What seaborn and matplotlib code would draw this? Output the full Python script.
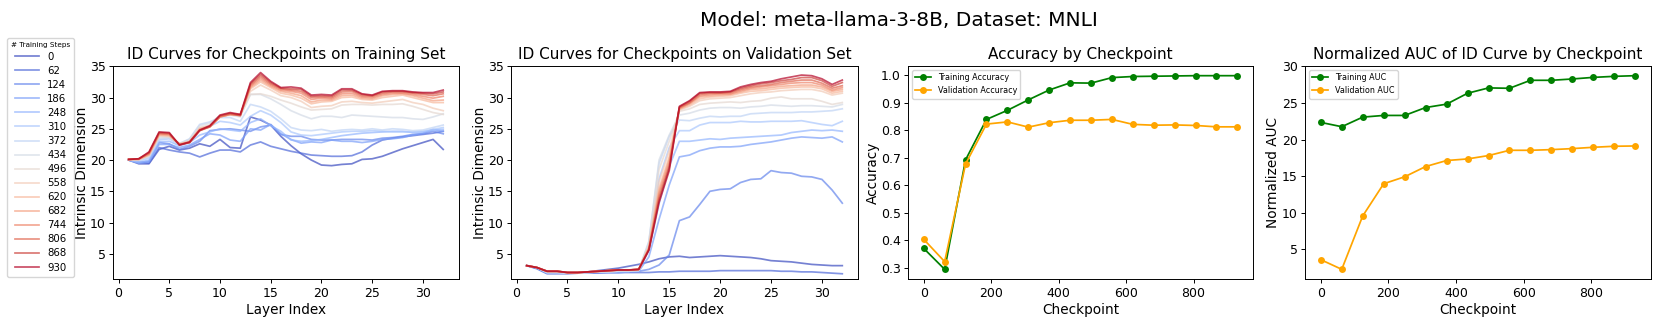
import numpy as np
import pandas as pd
import matplotlib
matplotlib.use("Agg")
import matplotlib.pyplot as plt
from matplotlib.ticker import MultipleLocator
import seaborn as sns

steps = [0, 62, 124, 186, 248, 310, 372, 434, 496, 558, 620, 682, 744, 806, 868, 930]
layers = list(range(1, 33))

# ---- ID curves on training set (one list per checkpoint) ----
train_000 = [20.0, 19.4, 19.4, 21.7, 22.2, 21.6, 21.9, 22.6, 22.2, 23.3, 22.0, 21.9, 26.9, 26.4, 25.6, 23.8,
             22.3, 21.0, 20.0, 19.2, 19.1, 19.3, 19.4, 20.1, 20.2, 20.6, 21.2, 21.8, 22.3, 22.8, 23.3, 21.7]
train_062 = [20.1, 19.7, 19.5, 22.0, 21.6, 21.3, 21.1, 20.5, 21.1, 21.6, 21.6, 21.3, 22.4, 22.9, 22.2, 21.8,
             21.4, 21.1, 20.8, 20.7, 20.6, 20.6, 20.7, 21.3, 22.4, 23.2, 23.5, 23.7, 23.9, 24.1, 24.3, 24.6]
train_124 = [20.0, 19.6, 19.8, 22.8, 22.6, 21.7, 22.2, 23.0, 24.7, 24.9, 25.0, 24.8, 24.6, 25.3, 25.6, 24.1,
             23.8, 23.8, 23.3, 23.2, 23.2, 23.3, 23.3, 23.3, 23.2, 23.5, 23.6, 23.8, 24.1, 24.2, 24.6, 24.2]
train_186 = [20.0, 19.5, 19.7, 22.5, 22.5, 22.0, 22.4, 23.3, 24.2, 24.0, 23.2, 23.0, 25.0, 24.8, 25.7, 24.2,
             23.3, 22.7, 22.9, 22.8, 23.2, 23.0, 23.0, 22.8, 23.0, 23.3, 23.4, 23.6, 24.0, 24.3, 24.9, 24.6]
train_248 = [20.0, 19.6, 20.0, 22.9, 23.0, 22.3, 22.8, 24.0, 24.5, 25.0, 24.8, 24.6, 26.0, 26.6, 25.5, 24.6,
             23.2, 23.0, 23.1, 23.3, 23.6, 23.9, 24.1, 24.3, 24.4, 24.5, 24.6, 24.6, 24.4, 24.5, 24.8, 24.9]
train_310 = [20.0, 19.8, 20.3, 23.2, 23.4, 22.5, 23.2, 24.9, 25.4, 26.2, 26.0, 25.6, 27.0, 27.9, 27.2, 26.0,
             24.5, 24.0, 23.9, 24.1, 24.3, 24.5, 24.6, 24.6, 24.7, 24.6, 24.5, 24.5, 24.5, 24.6, 24.9, 25.2]
train_372 = [20.0, 20.0, 20.5, 23.4, 23.6, 22.6, 23.4, 25.7, 26.1, 26.8, 26.8, 26.2, 28.9, 28.5, 27.8, 26.6,
             25.2, 24.8, 24.7, 24.9, 24.6, 24.8, 24.9, 24.8, 25.0, 24.8, 25.0, 24.9, 24.7, 24.8, 25.2, 25.6]
train_434 = [20.0, 20.0, 20.6, 23.6, 23.6, 22.7, 23.3, 25.5, 25.9, 27.1, 27.2, 26.9, 30.5, 30.5, 29.8, 28.9,
             27.9, 27.2, 26.6, 27.0, 27.0, 26.8, 27.2, 27.1, 27.0, 26.9, 26.8, 26.8, 26.6, 26.5, 26.9, 27.4]
train_496 = [20.1, 20.1, 20.7, 23.8, 23.7, 22.6, 23.1, 25.2, 25.6, 27.0, 27.2, 27.3, 30.5, 30.6, 30.2, 29.6,
             29.1, 28.5, 28.0, 28.1, 28.2, 28.8, 28.9, 28.9, 28.8, 28.9, 28.9, 29.0, 28.6, 28.1, 27.6, 27.3]
train_558 = [20.1, 20.1, 20.8, 23.9, 23.8, 22.6, 23.0, 25.1, 25.5, 27.0, 27.3, 27.4, 31.0, 32.0, 31.2, 30.3,
             30.0, 29.4, 28.4, 28.6, 28.7, 29.3, 29.4, 29.2, 29.1, 29.3, 29.5, 29.7, 29.2, 28.9, 28.3, 27.9]
train_620 = [20.1, 20.1, 20.8, 24.0, 23.9, 22.6, 22.9, 25.0, 25.4, 26.9, 27.3, 27.3, 31.4, 32.5, 31.6, 30.7,
             30.4, 29.9, 29.0, 29.3, 29.4, 30.0, 30.1, 29.7, 29.6, 30.0, 30.2, 30.4, 30.0, 29.6, 29.2, 29.2]
train_682 = [20.1, 20.1, 20.9, 24.1, 24.0, 22.5, 22.9, 24.9, 25.4, 26.9, 27.3, 27.2, 31.6, 32.8, 31.8, 31.0,
             30.7, 30.3, 29.3, 29.6, 29.6, 30.3, 30.4, 29.9, 29.8, 30.3, 30.5, 30.6, 30.3, 29.9, 29.5, 29.6]
train_744 = [20.1, 20.2, 21.0, 24.2, 24.1, 22.5, 22.8, 24.8, 25.3, 26.9, 27.3, 27.1, 31.8, 33.1, 32.0, 31.2,
             31.0, 30.7, 29.7, 29.9, 29.8, 30.6, 30.7, 30.1, 30.0, 30.5, 30.7, 30.7, 30.5, 30.2, 29.9, 30.2]
train_806 = [20.1, 20.2, 21.1, 24.3, 24.2, 22.5, 22.8, 24.7, 25.3, 27.0, 27.4, 27.1, 32.0, 33.4, 32.2, 31.4,
             31.2, 31.0, 30.0, 30.1, 30.0, 30.9, 31.0, 30.3, 30.2, 30.7, 30.9, 30.9, 30.7, 30.5, 30.3, 30.6]
train_868 = [20.1, 20.2, 21.2, 24.4, 24.3, 22.4, 22.8, 24.7, 25.4, 27.1, 27.5, 27.2, 32.2, 33.7, 32.4, 31.5,
             31.4, 31.3, 30.2, 30.3, 30.2, 31.2, 31.2, 30.5, 30.3, 30.9, 31.0, 31.0, 30.8, 30.7, 30.6, 30.9]
train_930 = [20.1, 20.2, 21.3, 24.5, 24.4, 22.4, 22.9, 24.8, 25.5, 27.2, 27.6, 27.3, 32.4, 34.0, 32.6, 31.6,
             31.7, 31.5, 30.4, 30.5, 30.4, 31.4, 31.4, 30.6, 30.4, 31.0, 31.1, 31.1, 30.9, 30.8, 30.8, 31.2]

# ---- ID curves on validation set ----
val_000 = [3.1, 2.7, 2.0, 2.0, 2.0, 2.0, 2.1, 2.3, 2.5, 2.7, 3.0, 3.3, 3.7, 4.2, 4.5, 4.6,
           4.4, 4.5, 4.6, 4.7, 4.6, 4.5, 4.4, 4.2, 3.9, 3.8, 3.7, 3.5, 3.3, 3.2, 3.1, 3.1]
val_062 = [3.1, 2.6, 1.8, 1.8, 1.8, 1.9, 1.9, 1.9, 2.0, 2.0, 2.0, 2.0, 2.0, 2.1, 2.1, 2.2,
           2.2, 2.2, 2.2, 2.3, 2.3, 2.3, 2.3, 2.3, 2.3, 2.2, 2.2, 2.1, 2.1, 2.0, 1.9, 1.8]
val_124 = [3.1, 2.7, 1.9, 1.9, 1.9, 1.9, 2.0, 2.0, 2.0, 2.0, 2.1, 2.2, 2.5, 3.2, 4.8, 10.3,
           10.9, 12.9, 15.0, 15.3, 15.4, 16.4, 16.9, 17.0, 18.3, 18.0, 17.9, 17.4, 17.3, 16.9, 15.2, 13.1]
val_186 = [3.1, 2.7, 1.9, 1.9, 1.9, 1.9, 2.0, 2.0, 2.0, 2.0, 2.1, 2.2, 4.5, 10.5, 16.0, 20.5,
           20.8, 21.5, 21.9, 22.1, 22.1, 22.2, 22.5, 22.7, 22.9, 23.2, 23.5, 23.7, 23.6, 23.5, 23.7, 22.9]
val_248 = [3.1, 2.8, 2.0, 2.0, 1.9, 1.9, 2.0, 2.1, 2.1, 2.2, 2.2, 2.3, 5.5, 13.0, 19.0, 23.0,
           23.0, 23.2, 23.4, 23.3, 23.5, 23.6, 23.7, 23.8, 23.9, 24.0, 24.4, 24.6, 24.8, 24.7, 24.8, 24.6]
val_310 = [3.1, 2.8, 2.0, 2.0, 1.9, 1.9, 2.0, 2.1, 2.1, 2.2, 2.2, 2.3, 6.5, 17.0, 22.0, 24.7,
           24.7, 25.6, 26.0, 26.0, 26.0, 26.2, 26.1, 26.1, 26.2, 26.2, 26.2, 26.3, 26.0, 25.7, 25.5, 26.2]
val_372 = [3.1, 2.8, 2.0, 2.0, 1.9, 1.9, 2.0, 2.1, 2.1, 2.2, 2.2, 2.3, 7.0, 19.5, 23.8, 26.4,
           26.3, 26.7, 27.0, 26.9, 27.0, 27.0, 27.4, 27.5, 27.6, 27.6, 27.6, 27.7, 27.7, 27.8, 27.9, 28.2]
val_434 = [3.1, 2.8, 2.0, 2.0, 1.9, 1.9, 2.0, 2.1, 2.1, 2.2, 2.2, 2.3, 6.8, 20.0, 24.0, 27.2,
           27.5, 28.0, 28.3, 28.4, 28.4, 28.3, 28.5, 28.6, 28.8, 28.7, 28.6, 28.7, 28.7, 28.6, 28.5, 28.9]
val_496 = [3.1, 2.8, 2.1, 2.1, 2.0, 2.0, 2.0, 2.1, 2.2, 2.3, 2.3, 2.4, 6.5, 18.5, 23.0, 27.8,
           28.2, 28.9, 29.1, 29.2, 29.3, 29.2, 29.4, 29.5, 29.9, 30.1, 29.8, 29.8, 29.8, 29.4, 28.9, 29.2]
val_558 = [3.1, 2.8, 2.2, 2.2, 2.0, 2.0, 2.1, 2.2, 2.3, 2.4, 2.4, 2.5, 6.2, 16.5, 21.5, 28.0,
           28.6, 29.5, 29.8, 29.9, 30.0, 30.3, 30.6, 30.8, 30.9, 31.1, 31.2, 31.3, 31.3, 31.0, 30.4, 30.7]
val_620 = [3.1, 2.8, 2.2, 2.2, 2.0, 2.0, 2.1, 2.2, 2.3, 2.4, 2.4, 2.5, 6.0, 15.5, 20.5, 28.1,
           28.8, 29.8, 30.1, 30.2, 30.3, 30.7, 31.0, 31.1, 31.3, 31.5, 31.6, 31.7, 31.7, 31.4, 30.7, 31.0]
val_682 = [3.1, 2.8, 2.2, 2.2, 2.0, 2.0, 2.1, 2.2, 2.3, 2.4, 2.4, 2.5, 5.9, 15.0, 20.0, 28.2,
           29.0, 30.1, 30.3, 30.4, 30.5, 30.9, 31.3, 31.4, 31.6, 31.8, 31.9, 32.0, 32.0, 31.7, 31.0, 31.3]
val_744 = [3.1, 2.8, 2.2, 2.2, 2.0, 2.0, 2.1, 2.2, 2.3, 2.4, 2.4, 2.5, 5.8, 14.5, 19.5, 28.3,
           29.1, 30.3, 30.5, 30.6, 30.6, 31.1, 31.5, 31.7, 31.9, 32.1, 32.3, 32.4, 32.4, 32.0, 31.2, 31.6]
val_806 = [3.1, 2.8, 2.2, 2.2, 2.0, 2.0, 2.1, 2.2, 2.3, 2.4, 2.4, 2.5, 5.7, 14.0, 19.0, 28.4,
           29.2, 30.5, 30.7, 30.7, 30.8, 31.3, 31.7, 31.9, 32.1, 32.4, 32.6, 32.8, 32.8, 32.3, 31.5, 31.9]
val_868 = [3.1, 2.8, 2.2, 2.2, 2.0, 2.0, 2.1, 2.2, 2.3, 2.4, 2.4, 2.5, 5.6, 13.6, 18.7, 28.5,
           29.4, 30.7, 30.8, 30.8, 30.9, 31.5, 31.9, 32.2, 32.4, 32.7, 32.9, 33.2, 33.2, 32.7, 31.8, 32.4]
val_930 = [3.1, 2.8, 2.2, 2.2, 2.0, 2.0, 2.1, 2.2, 2.3, 2.4, 2.4, 2.5, 5.6, 13.2, 18.3, 28.6,
           29.5, 30.8, 30.9, 30.9, 31.0, 31.7, 32.1, 32.4, 32.6, 33.0, 33.3, 33.6, 33.5, 33.0, 32.1, 32.8]

# ---- Accuracy and AUC by checkpoint ----
train_acc = [0.371, 0.295, 0.693, 0.840, 0.873, 0.911, 0.947, 0.973, 0.972, 0.992, 0.996, 0.997, 0.998, 0.999, 0.999, 0.999]
val_acc = [0.404, 0.323, 0.678, 0.823, 0.831, 0.812, 0.828, 0.837, 0.837, 0.840, 0.822, 0.819, 0.820, 0.818, 0.813, 0.813]
train_auc = [22.35, 21.76, 23.07, 23.30, 23.30, 24.38, 24.84, 26.33, 27.06, 27.01, 28.10, 28.10, 28.28, 28.50, 28.64, 28.73]
val_auc = [3.60, 2.28, 9.57, 13.97, 14.92, 16.32, 17.14, 17.36, 17.82, 18.54, 18.54, 18.63, 18.77, 18.95, 19.09, 19.13]

train_curves = [train_000, train_062, train_124, train_186, train_248, train_310, train_372, train_434,
                train_496, train_558, train_620, train_682, train_744, train_806, train_868, train_930]
val_curves = [val_000, val_062, val_124, val_186, val_248, val_310, val_372, val_434,
              val_496, val_558, val_620, val_682, val_744, val_806, val_868, val_930]

plt.rcParams['font.family'] = ['DejaVu Sans']
plt.rcParams.update({
    'axes.linewidth': 0.7,
    'xtick.major.size': 2.9, 'ytick.major.size': 2.9,
    'xtick.major.width': 0.7, 'ytick.major.width': 0.7,
    'xtick.major.pad': 2.6, 'ytick.major.pad': 2.4,
    'axes.labelpad': 2.5, 'axes.titlepad': 5.0,
})

fig = plt.figure(figsize=(16.61, 3.32), dpi=100)
ax1 = fig.add_axes([0.068, 0.1596, 0.2083, 0.6416])
ax2 = fig.add_axes([0.3076, 0.1596, 0.2090, 0.6416])
ax3 = fig.add_axes([0.5467, 0.1596, 0.2077, 0.6416])
ax4 = fig.add_axes([0.7857, 0.1596, 0.2083, 0.6416])

colors = plt.cm.coolwarm(np.linspace(0, 1, len(steps)))
hue_order = [str(s) for s in steps]
palette = {str(s): colors[i] for i, s in enumerate(steps)}
ALPHA = 0.7
LW = 1.25


def long_df(curves):
    rows = []
    for s, curve in zip(steps, curves):
        for l, v in zip(layers, curve):
            rows.append({'layer': l, 'id': v, 'step': str(s)})
    return pd.DataFrame(rows)


TICK = 9
LABEL = 9.8
TITLE = 11

sns.lineplot(data=long_df(train_curves), x='layer', y='id', hue='step', hue_order=hue_order,
             palette=palette, alpha=ALPHA, linewidth=LW, ax=ax1, legend='full')
handles, labels = ax1.get_legend_handles_labels()
ax1.get_legend().remove()
for h in handles:
    h.set_alpha(ALPHA)
sns.lineplot(data=long_df(val_curves), x='layer', y='id', hue='step', hue_order=hue_order,
             palette=palette, alpha=ALPHA, linewidth=LW, ax=ax2, legend=False)

for ax, title in [(ax1, 'ID Curves for Checkpoints on Training Set'),
                  (ax2, 'ID Curves for Checkpoints on Validation Set')]:
    ax.set_ylim(0.96, 35.05)
    ax.set_title(title, fontsize=TITLE)
    ax.set_xlabel('Layer Index', fontsize=LABEL)
    ax.set_ylabel('Intrinsic Dimension', fontsize=LABEL)
    ax.tick_params(labelsize=TICK)

fig.legend(handles, labels, loc='upper left', bbox_to_anchor=(0.0012, 0.902), title='# Training Steps',
           fontsize=7.3, title_fontsize=5.2, labelspacing=0.4, handlelength=2.4, borderpad=0.4)

# Accuracy panel
acc_df = pd.DataFrame({'checkpoint': steps + steps, 'value': train_acc + val_acc,
                       'set': ['Training Accuracy'] * len(steps) + ['Validation Accuracy'] * len(steps)})
sns.lineplot(data=acc_df, x='checkpoint', y='value', hue='set',
             palette={'Training Accuracy': 'green', 'Validation Accuracy': 'orange'},
             marker='o', markersize=5, markeredgewidth=0, linewidth=LW, ax=ax3, legend=False)
ax3.legend(handles=ax3.lines[:2], labels=['Training Accuracy', 'Validation Accuracy'],
           loc='upper left', fontsize=5.8)
ax3.yaxis.set_major_locator(MultipleLocator(0.1))
ax3.set_title('Accuracy by Checkpoint', fontsize=TITLE)
ax3.set_xlabel('Checkpoint', fontsize=LABEL)
ax3.set_ylabel('Accuracy', fontsize=LABEL)
ax3.tick_params(labelsize=TICK)

# AUC panel
auc_df = pd.DataFrame({'checkpoint': steps + steps, 'value': train_auc + val_auc,
                       'set': ['Training AUC'] * len(steps) + ['Validation AUC'] * len(steps)})
sns.lineplot(data=auc_df, x='checkpoint', y='value', hue='set',
             palette={'Training AUC': 'green', 'Validation AUC': 'orange'},
             marker='o', markersize=5, markeredgewidth=0, linewidth=LW, ax=ax4, legend=False)
ax4.legend(handles=ax4.lines[:2], labels=['Training AUC', 'Validation AUC'],
           loc='upper left', fontsize=5.8)
ax4.set_title('Normalized AUC of ID Curve by Checkpoint', fontsize=TITLE)
ax4.set_xlabel('Checkpoint', fontsize=LABEL)
ax4.set_ylabel('Normalized AUC', fontsize=LABEL)
ax4.tick_params(labelsize=TICK)

# y-label placement as in the reference
ax1.yaxis.set_label_coords(-0.068, 0.5)
ax2.yaxis.set_label_coords(-0.070, 0.5)
ax3.yaxis.set_label_coords(-0.082, 0.5)
ax4.yaxis.set_label_coords(-0.071, 0.5)

fig.suptitle('Model: meta-llama-3-8B, Dataset: MNLI', fontsize=14.5, x=0.541, y=0.968)

fig.savefig('out.png', dpi=100)
